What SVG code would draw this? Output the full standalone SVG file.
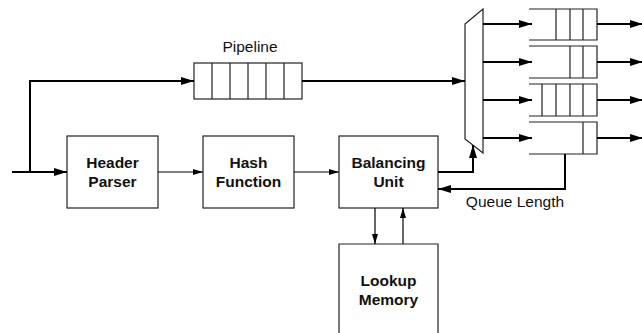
<svg xmlns="http://www.w3.org/2000/svg" width="642" height="333" viewBox="0 0 642 333">
  <style>
    .box { fill: #fff; stroke: #222; stroke-width: 1.2; }
    .cell { fill: none; stroke: #222; stroke-width: 1.2; }
    .lbl { font-family: "Liberation Sans", Arial, sans-serif; font-size: 15.5px; font-weight: bold; text-anchor: middle; fill: #111; }
    .cap { font-family: "Liberation Sans", Arial, sans-serif; font-size: 15.5px; text-anchor: middle; fill: #111; }
    .thick { fill: none; stroke: #000; stroke-width: 2; marker-end: url(#bigHead); }
    .thin { fill: none; stroke: #000; stroke-width: 1.2; marker-end: url(#smallHead); }
  </style>
  <defs>
    <marker id="bigHead" markerUnits="userSpaceOnUse" markerWidth="13" markerHeight="8" refX="13" refY="4" orient="auto" overflow="visible">
      <path d="M0,0 L13,4 L0,8 z" fill="#000"/>
    </marker>
    <marker id="smallHead" markerUnits="userSpaceOnUse" markerWidth="10" markerHeight="6" refX="10" refY="3" orient="auto" overflow="visible">
      <path d="M0,0 L10,3 L0,6 z" fill="#000"/>
    </marker>
  </defs>
  <rect width="642" height="333" fill="#fff"/>

  <!-- pipeline delay line -->
  <g id="pipeline">
    <rect class="box" x="194" y="63" width="108" height="36"/>
    <path class="cell" d="M212,63 V99 M230,63 V99 M248,63 V99 M266,63 V99 M284,63 V99"/>
    <text class="cap" x="250" y="52">Pipeline</text>
  </g>

  <g id="header-parser">
    <rect class="box" x="67" y="136" width="91" height="72"/>
    <text class="lbl" x="112.5" y="167.5">Header</text>
    <text class="lbl" x="112.5" y="186.5">Parser</text>
  </g>

  <g id="hash-function">
    <rect class="box" x="203" y="136" width="91" height="72"/>
    <text class="lbl" x="248.5" y="167.5">Hash</text>
    <text class="lbl" x="248.5" y="186.5">Function</text>
  </g>

  <g id="balancing-unit">
    <rect class="box" x="339" y="136" width="99" height="72"/>
    <text class="lbl" x="388.5" y="167.5">Balancing</text>
    <text class="lbl" x="388.5" y="186.5">Unit</text>
  </g>

  <g id="lookup-memory">
    <path class="box" d="M339,340 V244 H438 V340"/>
    <text class="lbl" x="388.5" y="285.5">Lookup</text>
    <text class="lbl" x="388.5" y="304.5">Memory</text>
  </g>

  <g id="demux">
    <polygon class="box" points="465,24 483,9 483,153 465,139"/>
  </g>

  <!-- output queues, open on the left -->
  <g id="queue-1">
    <path class="cell" d="M529,9 H597 V40 H529 M556,9 V40 M570,9 V40 M583,9 V40"/>
  </g>
  <g id="queue-2">
    <path class="cell" d="M529,46 H597 V78 H529 M570,46 V78 M583,46 V78"/>
  </g>
  <g id="queue-3">
    <path class="cell" d="M529,84 H597 V116 H529 M542,84 V116 M556,84 V116 M570,84 V116 M583,84 V116"/>
  </g>
  <g id="queue-4">
    <path class="cell" d="M529,122 H597 V154 H529 M583,122 V154"/>
  </g>

  <g id="queue-length-label">
    <text class="cap" x="515" y="207">Queue Length</text>
  </g>

  <g id="connectors">
    <path class="thick" d="M12,172 H67"/>
    <path class="thick" d="M30,172 V81 H194"/>
    <path class="thick" d="M302,81 H465"/>
    <path class="thin" d="M158,172 H203"/>
    <path class="thin" d="M294,172 H339"/>
    <path class="thick" d="M438,172 H473 V145"/>
    <path class="thick" d="M565,154 V189 H438"/>
    <path class="thin" d="M375,208 V244"/>
    <path class="thin" d="M403,244 V208"/>
    <path class="thick" d="M483,24 H532"/>
    <path class="thick" d="M483,62 H532"/>
    <path class="thick" d="M483,100 H532"/>
    <path class="thick" d="M483,138 H532"/>
    <path class="thick" d="M597,24 H643"/>
    <path class="thick" d="M597,62 H643"/>
    <path class="thick" d="M597,100 H643"/>
    <path class="thick" d="M597,138 H643"/>
  </g>
</svg>
